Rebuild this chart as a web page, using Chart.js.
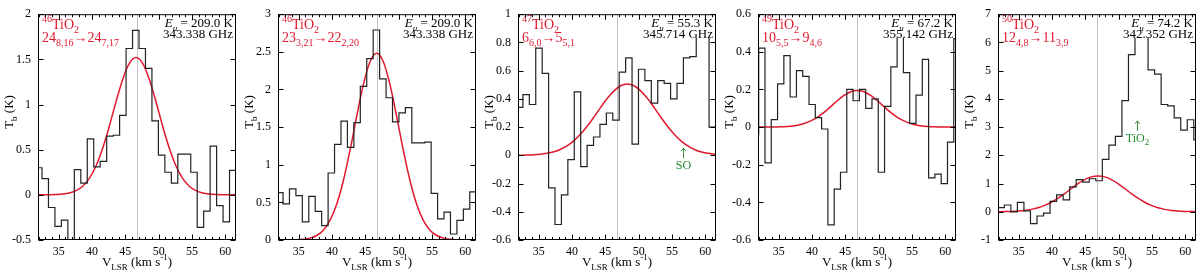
<!DOCTYPE html>
<html>
<head>
<meta charset="utf-8">
<script src="https://cdn.jsdelivr.net/npm/chart.js@4.4.1/dist/chart.umd.min.js"></script>
<style>
  body { margin: 0; background: #fff; }
  #row { display: flex; width: 1200px; height: 275px; }
  canvas { display: block; }
</style>
</head>
<body>
<div id="row">
  <canvas id="c0" width="240" height="275"></canvas>
  <canvas id="c1" width="240" height="275"></canvas>
  <canvas id="c2" width="240" height="275"></canvas>
  <canvas id="c3" width="240" height="275"></canvas>
  <canvas id="c4" width="240" height="275"></canvas>
</div>
<script>
// channel grid of each spectrum: centre of first channel and channel width (km/s)
var chanStart = [32.015, 32.17, 32.155, 31.53, 32.36];
var chanWidth = [0.97, 0.966, 0.963, 0.944, 0.98];

// brightness temperature per channel (K)
var tb1 = [0.30, 0.18, -0.14, -0.35, -0.28, -0.60, 0.28, 0.13, 0.62, 0.31, 0.37, 0.65, 0.66, 0.88, 1.62, 1.82,
  1.62, 1.40, 0.82, 0.44, 0.25, 0.13, 0.45, 0.45, 0.25, -0.36, -0.18, 0.54, -0.12, -0.30, 0.27];
var tb2 = [0.63, 0.48, 0.68, 0.59, 0.24, 0.58, 0.38, 0.19, 0.89, 1.27, 1.58, 1.23, 1.56, 2.04, 2.41, 2.79,
  2.14, 1.89, 1.57, 1.69, 1.76, 1.29, 1.29, 1.30, 0.62, 0.28, 0.37, 0.08, 0.26, 0.41, 0.64];
var tb3 = [0.34, 0.43, 0.36, 0.76, 0.58, -0.23, -0.49, -0.28, -0.03, 0.45, -0.08, 0.07, 0.13, 0.22, 0.30, 0.25,
  0.59, 0.69, 0.08, 0.61, 0.53, 0.37, 0.53, 0.51, 0.40, 0.51, 0.69, 0.70, 0.90, 0.92, 0.20];
var tb4 = [-0.04, 0.42, -0.19, 0.04, 0.23, 0.38, 0.16, 0.30, 0.27, 0.12, 0.05, -0.01, -0.52, -0.33, -0.24, 0.20,
  0.14, 0.20, 0.10, 0.15, -0.24, 0.11, 0.32, 0.52, 0.29, 0.02, 0.17, 0.36, -0.27, -0.25, -0.30, -0.08, 0.47];
var tb5 = [0.15, 0.24, 0.00, 0.33, 0.03, -0.42, -0.15, -0.05, 0.37, 0.60, 0.42, 0.88, 1.14, 1.05, 1.17, 1.10,
  1.86, 2.36, 2.67, 3.94, 5.57, 6.40, 6.30, 5.03, 4.88, 3.80, 3.75, 3.33, 2.89, 3.26, 2.55];

// fitted line profiles (red), sampled off the figure
var fitV1 = [31.6, 32.6, 33.6, 34.6, 35.6, 36.6, 37.6, 38.6, 39.6, 40.6, 41.6, 42.6, 43.6, 44.6, 45.6, 46.6,
  47.6, 48.6, 49.6, 50.6, 51.6, 52.6, 53.6, 54.6, 55.6, 56.6, 57.6, 58.6, 59.6, 60.6, 61.6];
var fitT1 = [0, 0, 0.001, 0.003, 0.008, 0.02, 0.046, 0.095, 0.183, 0.32, 0.516, 0.76, 1.03, 1.278, 1.456, 1.52,
  1.456, 1.278, 1.03, 0.76, 0.516, 0.32, 0.183, 0.095, 0.046, 0.02, 0.008, 0.003, 0.001, 0, 0];
var fitV2 = [31.7, 32.7, 33.7, 34.7, 35.7, 36.7, 37.7, 38.7, 39.7, 40.7, 41.7, 42.7, 43.7, 44.7, 45.7, 46.7,
  47.7, 48.7, 49.7, 50.7, 51.7, 52.7, 53.7, 54.7, 55.7, 56.7, 57.7, 58.7, 59.7, 60.7, 61.7];
var fitT2 = [0, 0, 0.001, 0.003, 0.01, 0.025, 0.06, 0.131, 0.261, 0.475, 0.787, 1.19, 1.641, 2.064, 2.369, 2.48,
  2.369, 2.064, 1.641, 1.19, 0.787, 0.475, 0.261, 0.131, 0.06, 0.025, 0.01, 0.003, 0.001, 0, 0];
var fitV3 = [31.3, 32.3, 33.3, 34.3, 35.3, 36.3, 37.3, 38.3, 39.3, 40.3, 41.3, 42.3, 43.3, 44.3, 45.3, 46.3,
  47.3, 48.3, 49.3, 50.3, 51.3, 52.3, 53.3, 54.3, 55.3, 56.3, 57.3, 58.3, 59.3, 60.3, 61.3, 62.3];
var fitT3 = [0.0004, 0.001, 0.002, 0.004, 0.008, 0.014, 0.025, 0.043, 0.068, 0.104, 0.151, 0.208, 0.272, 0.34,
  0.404, 0.457, 0.493, 0.505, 0.493, 0.457, 0.404, 0.34, 0.272, 0.208, 0.151, 0.104, 0.068, 0.043, 0.025,
  0.014, 0.008, 0.004];
var fitV4 = [31.8, 32.8, 33.8, 34.8, 35.8, 36.8, 37.8, 38.8, 39.8, 40.8, 41.8, 42.8, 43.8, 44.8, 45.8, 46.8,
  47.8, 48.8, 49.8, 50.8, 51.8, 52.8, 53.8, 54.8, 55.8, 56.8, 57.8, 58.8, 59.8, 60.8, 61.8];
var fitT4 = [0, 0, 0, 0.001, 0.002, 0.005, 0.01, 0.019, 0.033, 0.052, 0.078, 0.109, 0.14, 0.168, 0.188, 0.195,
  0.188, 0.168, 0.14, 0.109, 0.078, 0.052, 0.033, 0.019, 0.01, 0.005, 0.002, 0.001, 0, 0, 0];
var fitV5 = [31.9, 32.9, 33.9, 34.9, 35.9, 36.9, 37.9, 38.9, 39.9, 40.9, 41.9, 42.9, 43.9, 44.9, 45.9, 46.9,
  47.9, 48.9, 49.9, 50.9, 51.9, 52.9, 53.9, 54.9, 55.9, 56.9, 57.9, 58.9, 59.9, 60.9, 61.9];
var fitT5 = [0.003, 0.006, 0.013, 0.026, 0.048, 0.085, 0.142, 0.225, 0.338, 0.48, 0.646, 0.824, 0.996, 1.14,
  1.236, 1.27, 1.236, 1.14, 0.996, 0.824, 0.646, 0.48, 0.338, 0.225, 0.142, 0.085, 0.048, 0.026, 0.013,
  0.006, 0.003];

var spectra = [tb1, tb2, tb3, tb4, tb5];
var fitV = [fitV1, fitV2, fitV3, fitV4, fitV5];
var fitT = [fitT1, fitT2, fitT3, fitT4, fitT5];

var vsys = 46.7;
var xMin = 31.9, xMax = 61.6;
var xTicks = [35, 40, 45, 50, 55, 60];
var yMin = [-0.5, 0, -0.6, -0.6, -1];
var yMax = [2, 3, 1, 0.6, 7];
var yStep = [0.5, 0.5, 0.2, 0.2, 1];

// labels
var isotope = ['46', '46', '47', '49', '50'];
var upperLevel = [['24', '8,16'], ['23', '3,21'], ['6', '6,0'], ['10', '5,5'], ['12', '4,8']];
var lowerLevel = [['24', '7,17'], ['22', '2,20'], ['5', '5,1'], ['9', '4,6'], ['11', '3,9']];
var eUpper = ['209.0', '209.0', '55.3', '67.2', '74.2'];
var freqGHz = ['343.338', '343.338', '345.714', '355.142', '342.352'];
var blendV = [null, null, 56.7, null, 52.75];
var blendT = [null, null, 0.05, null, 3.22];
var blendName = [null, null, [['SO', '']], null, [['TiO', ''], ['2', 'sub']]];

var SERIF = 'Liberation Serif, DejaVu Serif, Tinos, Times, serif';
Chart.defaults.font.family = SERIF;
Chart.defaults.font.size = 12;
Chart.defaults.color = '#000';

function stepPoints(start, width, tb) {
  var pts = [];
  tb.forEach(function (t, k) {
    var c = start + k * width;
    pts.push({ x: c - width / 2, y: t }, { x: c + width / 2, y: t });
  });
  return pts;
}

function fontFor(kind, size) {
  var small = Math.round(size * 0.72);
  var it = kind.indexOf('it') === 0 ? 'italic ' : '';
  var sz = (kind === 'sub' || kind === 'sup' || kind === 'itsub') ? small : size;
  return it + sz + 'px ' + SERIF;
}

// draw text made of pieces [text, kind] with sub/superscripts
function drawRich(ctx, parts, x, y, size, align) {
  var w = 0;
  parts.forEach(function (p) { ctx.font = fontFor(p[1], size); w += ctx.measureText(p[0]).width; });
  var cx = align === 'right' ? x - w : align === 'center' ? x - w / 2 : x;
  ctx.textAlign = 'left';
  ctx.textBaseline = 'alphabetic';
  parts.forEach(function (p) {
    ctx.font = fontFor(p[1], size);
    var dy = (p[1] === 'sub' || p[1] === 'itsub') ? size * 0.3 : p[1] === 'sup' ? -size * 0.5 : 0;
    ctx.fillText(p[0], cx, y + dy);
    cx += ctx.measureText(p[0]).width;
  });
  return w;
}

var panelDecor = {
  id: 'panelDecor',
  beforeDatasetsDraw: function (chart) {
    var a = chart.chartArea, ctx = chart.ctx;
    var x = Math.round(chart.scales.x.getPixelForValue(vsys)) + 0.5;
    ctx.save();
    ctx.strokeStyle = '#c6c6c6';
    ctx.lineWidth = 1;
    ctx.beginPath();
    ctx.moveTo(x, a.top);
    ctx.lineTo(x, a.bottom);
    ctx.stroke();
    ctx.restore();
  },
  afterDatasetsDraw: function (chart, args, opts) {
    var i = opts.panel;
    var a = chart.chartArea, ctx = chart.ctx;
    var xs = chart.scales.x, ys = chart.scales.y;
    ctx.save();

    // black label on an opaque box
    var line1 = [['E', 'it'], ['u', 'itsub'], [' = ' + eUpper[i] + ' K', '']];
    var line2 = [[freqGHz[i] + ' GHz', '']];
    ctx.font = '13px ' + SERIF;
    var w2 = ctx.measureText(line2[0][0]).width;
    ctx.fillStyle = '#fff';
    ctx.fillRect(a.right - w2 - 4, a.top + 1, w2 + 3, 22.5);
    ctx.fillStyle = '#000';
    drawRich(ctx, line1, a.right - 3, a.top + 13, 13, 'right');
    drawRich(ctx, line2, a.right - 3, a.top + 24, 13, 'right');

    // red species / transition label
    ctx.fillStyle = '#e0182d';
    drawRich(ctx, [[isotope[i], 'sup'], ['TiO', ''], ['2', 'sub']], a.left + 4, a.top + 15, 14, 'left');
    drawRich(ctx, [[upperLevel[i][0], ''], [upperLevel[i][1], 'sub'], ['\u2192', ''],
      [lowerLevel[i][0], ''], [lowerLevel[i][1], 'sub']], a.left + 4, a.top + 28, 14, 'left');

    // blended line marker
    if (blendV[i] !== null) {
      var bx = Math.round(xs.getPixelForValue(blendV[i])) + 0.5;
      var by = ys.getPixelForValue(blendT[i]);
      ctx.strokeStyle = '#23862a';
      ctx.fillStyle = '#23862a';
      ctx.lineWidth = 0.9;
      ctx.beginPath();
      ctx.moveTo(bx, by);
      ctx.lineTo(bx, by + 10);
      ctx.moveTo(bx - 2.5, by + 3);
      ctx.lineTo(bx, by);
      ctx.lineTo(bx + 2.5, by + 3);
      ctx.stroke();
      drawRich(ctx, blendName[i], bx, by + 21, 12, 'center');
    }

    // frame with inward ticks on all sides
    ctx.strokeStyle = '#000';
    ctx.lineWidth = 1;
    var L = a.left + 0.5, R = a.right - 0.5, T = a.top + 0.5, B = a.bottom - 0.5;
    ctx.strokeRect(L, T, R - L, B - T);
    ctx.beginPath();
    for (var v = Math.ceil(xMin); v <= Math.floor(xMax); v++) {
      var px = Math.round(xs.getPixelForValue(v)) + 0.5;
      var len = v % 5 === 0 ? 5 : 2.5;
      ctx.moveTo(px, B); ctx.lineTo(px, B - len);
      ctx.moveTo(px, T); ctx.lineTo(px, T + len);
    }
    ys.ticks.forEach(function (t) {
      var py = Math.round(ys.getPixelForValue(t.value)) + 0.5;
      ctx.moveTo(L, py); ctx.lineTo(L + 5, py);
      ctx.moveTo(R, py); ctx.lineTo(R - 5, py);
    });
    ctx.stroke();

    // axis titles
    ctx.fillStyle = '#000';
    drawRich(ctx, [['V', ''], ['LSR', 'sub'], [' (km s', ''], ['-1', 'sup'], [')', '']],
      (a.left + a.right) / 2, 266, 13, 'center');
    ctx.translate(13, 112);
    ctx.rotate(-Math.PI / 2);
    drawRich(ctx, [['T', ''], ['b', 'sub'], [' (K)', '']], 0, 0, 13, 'center');
    ctx.restore();
  }
};

function tickText(v) {
  return String(Math.round(v * 100) / 100);
}

function makePanel(i) {
  return new Chart(document.getElementById('c' + i), {
    type: 'line',
    data: {
      datasets: [
        {
          data: stepPoints(chanStart[i], chanWidth[i], spectra[i]),
          borderColor: '#222',
          borderWidth: 1.2,
          pointRadius: 0,
          tension: 0,
          clip: 0
        },
        {
          data: fitV[i].map(function (v, k) { return { x: v, y: fitT[i][k] }; }),
          borderColor: '#e0182d',
          borderWidth: 1.5,
          pointRadius: 0,
          cubicInterpolationMode: 'monotone',
          clip: 0
        }
      ]
    },
    options: {
      responsive: false,
      animation: false,
      layout: { padding: { top: 10, right: 4, left: 0, bottom: 0 } },
      plugins: {
        legend: { display: false },
        tooltip: { enabled: false },
        panelDecor: { panel: i }
      },
      scales: {
        x: {
          type: 'linear',
          min: xMin,
          max: xMax,
          grid: { display: false, drawTicks: false },
          border: { display: false },
          afterBuildTicks: function (s) { s.ticks = xTicks.map(function (v) { return { value: v }; }); },
          afterFit: function (s) { s.height = 35; },
          ticks: { padding: 5, maxRotation: 0, autoSkip: false, font: { size: 12 }, callback: tickText }
        },
        y: {
          min: yMin[i],
          max: yMax[i],
          grid: { display: false, drawTicks: false },
          border: { display: false },
          afterFit: function (s) { s.width = 38; },
          ticks: { stepSize: yStep[i], padding: 7, font: { size: 12 }, callback: tickText }
        }
      }
    },
    plugins: [panelDecor]
  });
}

for (var i = 0; i < 5; i++) makePanel(i);
</script>
</body>
</html>
